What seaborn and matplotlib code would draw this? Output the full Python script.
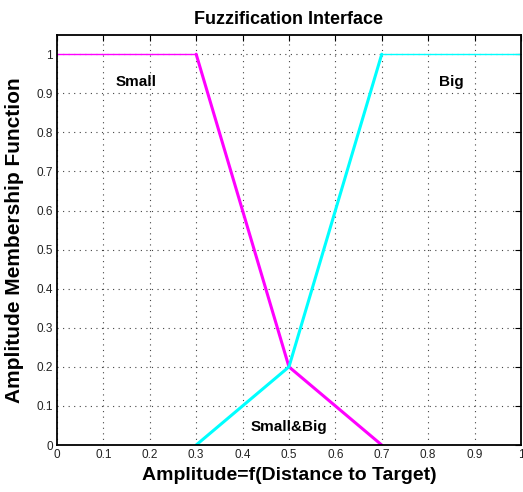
import matplotlib
matplotlib.use("Agg")
import matplotlib.pyplot as plt
import seaborn as sns
import pandas as pd
import numpy as np

# Data
small_flat_x = [0.0, 0.3]
small_flat_y = [1.0, 1.0]
small_slope_x = [0.3, 0.5, 0.7]
small_slope_y = [1.0, 0.2, 0.0]
big_slope_x = [0.3, 0.5, 0.7]
big_slope_y = [0.0, 0.2, 1.0]
big_flat_x = [0.7, 1.0]
big_flat_y = [1.0, 1.0]
xticks = [0, 0.1, 0.2, 0.3, 0.4, 0.5, 0.6, 0.7, 0.8, 0.9, 1]
yticks = [0, 0.1, 0.2, 0.3, 0.4, 0.5, 0.6, 0.7, 0.8, 0.9, 1]
labels = ["Small", "Big", "Small&Big"]
label_x = [0.17, 0.85, 0.5]
label_y = [0.93, 0.93, 0.045]

sns.set_style("white")
plt.rcParams['font.family'] = ['Liberation Sans', 'DejaVu Sans']
plt.rcParams['text.color'] = 'black'
plt.rcParams['axes.labelcolor'] = 'black'
plt.rcParams['xtick.color'] = 'black'
plt.rcParams['ytick.color'] = 'black'

fig = plt.figure(figsize=(5.23, 4.92), dpi=100)
ax = fig.add_axes([0.109, 0.0955, 0.887, 0.834])

magenta = "#ff00ff"
cyan = "#00ffff"
sns.lineplot(x=small_flat_x, y=small_flat_y, ax=ax, color=magenta, linewidth=1.0, sort=False)
sns.lineplot(x=small_slope_x, y=small_slope_y, ax=ax, color=magenta, linewidth=2.2, sort=False)
sns.lineplot(x=big_slope_x, y=big_slope_y, ax=ax, color=cyan, linewidth=2.2, sort=False)
sns.lineplot(x=big_flat_x, y=big_flat_y, ax=ax, color=cyan, linewidth=1.0, sort=False)

ax.set_xlim(0, 1)
ax.set_ylim(0, 1.05)
ax.set_xticks(xticks)
ax.set_yticks(yticks)
ax.set_xticklabels([f"{t:g}" for t in xticks], fontsize=8.5, color="#222222")
ax.set_yticklabels([f"{t:g}" for t in yticks], fontsize=8.5, color="#222222")
ax.tick_params(direction="in", length=4, width=0.8, top=True, right=True, pad=3)
ax.grid(True, linestyle=(0, (1, 4)), color="#444444", linewidth=0.8)
for s in ax.spines.values():
    s.set_linewidth(1.3)
    s.set_color("black")

for t, x, y in zip(labels, label_x, label_y):
    ax.text(x, y, t, fontsize=11, fontweight="bold", ha="center", va="center", color="black")

ax.set_title("Fuzzification Interface", fontsize=13, fontweight="bold", pad=8, color="black")
ax.set_xlabel("Amplitude=f(Distance to Target)", fontsize=14, fontweight="bold", labelpad=4)
ax.set_ylabel("Amplitude Membership Function", fontsize=15, fontweight="bold", labelpad=9)

fig.savefig("out.png", dpi=100)
